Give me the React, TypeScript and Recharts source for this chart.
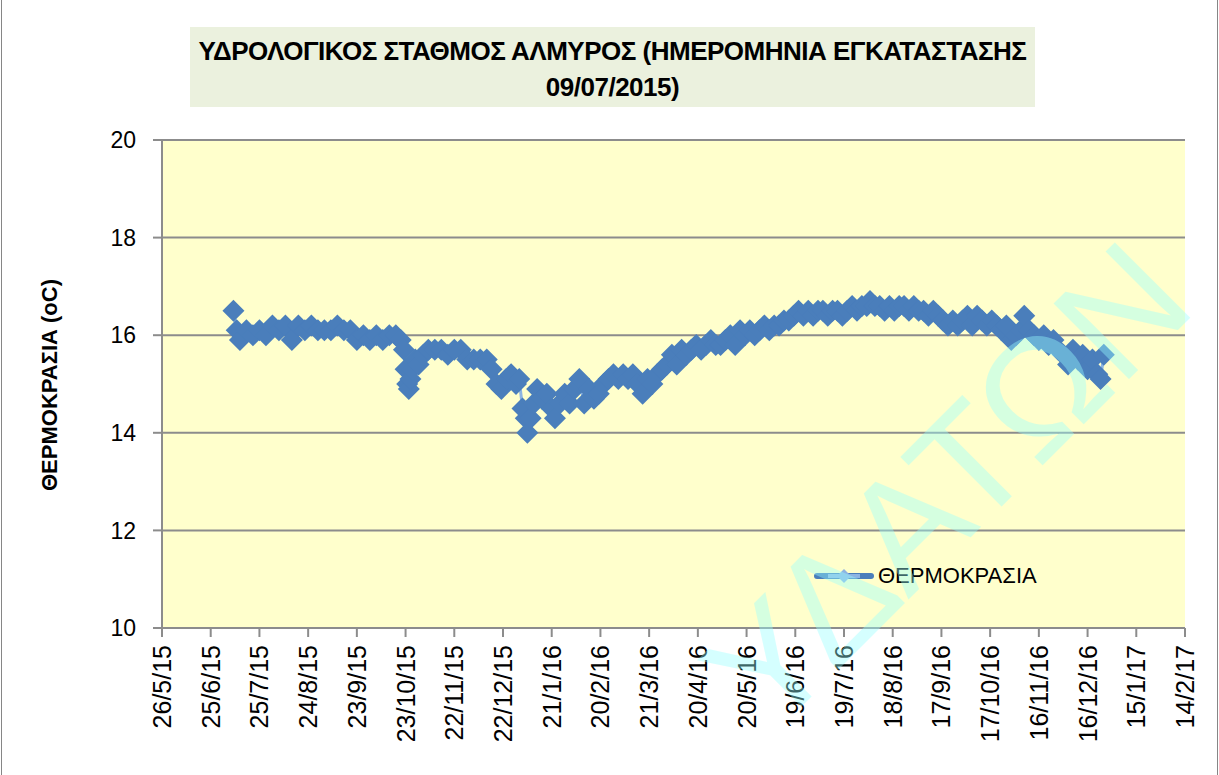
import { LineChart, Line, XAxis, YAxis, CartesianGrid, Legend, Label } from 'recharts';

// x axis tick labels (every 30 days, as on the original sheet)
const tickLabels = [
  '26/5/15', '25/6/15', '25/7/15', '24/8/15', '23/9/15', '23/10/15', '22/11/15',
  '22/12/15', '21/1/16', '20/2/16', '21/3/16', '20/4/16', '20/5/16', '19/6/16',
  '19/7/16', '18/8/16', '17/9/16', '17/10/16', '16/11/16', '16/12/16', '15/1/17', '14/2/17',
];
const yTicks = [10, 12, 14, 16, 18, 20];

// measurement dates (d/m/yy)
const dates = [
  '9/7/15', '11/7/15', '13/7/15', '17/7/15', '21/7/15', '25/7/15', '29/7/15',
  '2/8/15', '6/8/15', '10/8/15', '14/8/15', '18/8/15', '22/8/15', '26/8/15', '30/8/15',
  '3/9/15', '7/9/15', '11/9/15', '15/9/15', '19/9/15', '23/9/15', '27/9/15',
  '1/10/15', '5/10/15', '9/10/15', '13/10/15', '17/10/15', '20/10/15', '22/10/15', '23/10/15', '24/10/15', '25/10/15', '26/10/15', '27/10/15', '29/10/15', '31/10/15',
  '3/11/15', '6/11/15', '10/11/15', '14/11/15', '18/11/15', '22/11/15', '26/11/15', '30/11/15',
  '4/12/15', '8/12/15', '12/12/15', '15/12/15', '18/12/15', '21/12/15', '24/12/15', '27/12/15', '30/12/15',
  '1/1/16', '3/1/16', '5/1/16', '6/1/16', '8/1/16', '10/1/16', '12/1/16', '15/1/16', '18/1/16', '21/1/16', '23/1/16', '26/1/16', '29/1/16',
  '1/2/16', '4/2/16', '7/2/16', '10/2/16', '13/2/16', '16/2/16', '19/2/16', '22/2/16', '25/2/16', '28/2/16',
  '2/3/16', '5/3/16', '8/3/16', '11/3/16', '14/3/16', '17/3/16', '20/3/16', '23/3/16', '26/3/16', '29/3/16',
  '1/4/16', '4/4/16', '7/4/16', '10/4/16', '13/4/16', '16/4/16', '19/4/16', '22/4/16', '25/4/16', '28/4/16',
  '1/5/16', '4/5/16', '7/5/16', '10/5/16', '13/5/16', '16/5/16', '19/5/16', '22/5/16', '25/5/16', '28/5/16', '31/5/16',
  '3/6/16', '6/6/16', '9/6/16', '12/6/16', '15/6/16', '18/6/16', '21/6/16', '24/6/16', '27/6/16', '30/6/16',
  '3/7/16', '6/7/16', '9/7/16', '12/7/16', '15/7/16', '18/7/16', '21/7/16', '24/7/16', '27/7/16', '30/7/16',
  '2/8/16', '4/8/16', '7/8/16', '10/8/16', '13/8/16', '16/8/16', '19/8/16', '22/8/16', '25/8/16', '28/8/16', '31/8/16',
  '3/9/16', '6/9/16', '9/9/16', '12/9/16', '15/9/16', '18/9/16', '21/9/16', '24/9/16', '27/9/16', '30/9/16',
  '3/10/16', '6/10/16', '9/10/16', '12/10/16', '15/10/16', '18/10/16', '21/10/16', '24/10/16', '27/10/16', '30/10/16',
  '2/11/16', '5/11/16', '7/11/16', '10/11/16', '13/11/16', '16/11/16', '19/11/16', '22/11/16', '25/11/16', '28/11/16',
  '1/12/16', '4/12/16', '7/12/16', '10/12/16', '13/12/16', '16/12/16', '19/12/16', '22/12/16', '24/12/16', '26/12/16',
];

// water temperature, oC (same order as dates)
const temps = [
  16.5, 16.1, 15.9, 16.1, 16.0, 16.1, 16.0,
  16.2, 16.1, 16.2, 15.9, 16.2, 16.1, 16.2, 16.1,
  16.1, 16.1, 16.2, 16.1, 16.1, 15.9, 16.0,
  15.9, 16.0, 15.9, 16.0, 16.0, 15.9, 15.7, 15.3, 15.0, 14.9, 15.1, 15.3, 15.5, 15.4,
  15.6, 15.7, 15.7, 15.7, 15.6, 15.7, 15.7, 15.5,
  15.5, 15.5, 15.5, 15.3, 15.0, 14.9, 15.1, 15.2, 15.0,
  15.1, 14.5, 14.3, 14.0, 14.3, 14.6, 14.9, 14.7, 14.8, 14.5, 14.3, 14.6, 14.8,
  14.6, 14.9, 15.1, 14.6, 14.9, 14.7, 14.8, 15.0, 15.1, 15.2,
  15.1, 15.2, 15.1, 15.2, 15.0, 14.8, 15.1, 15.0, 15.2, 15.3,
  15.4, 15.6, 15.4, 15.7, 15.6, 15.7, 15.8, 15.7, 15.8, 15.9,
  15.8, 15.8, 15.9, 16.0, 15.8, 16.1, 16.0, 16.1, 16.0, 16.1, 16.2,
  16.1, 16.2, 16.2, 16.3, 16.3, 16.4, 16.5, 16.4, 16.5, 16.4,
  16.5, 16.5, 16.4, 16.5, 16.5, 16.4, 16.5, 16.6, 16.5, 16.6,
  16.6, 16.7, 16.6, 16.6, 16.5, 16.6, 16.5, 16.6, 16.6, 16.5, 16.6,
  16.5, 16.5, 16.4, 16.5, 16.4, 16.3, 16.2, 16.3, 16.2, 16.3,
  16.4, 16.2, 16.4, 16.3, 16.2, 16.3, 16.2, 16.1, 16.2, 15.9,
  16.0, 16.1, 16.4, 16.1, 16.0, 15.9, 16.0, 15.8, 15.9, 15.7,
  15.6, 15.4, 15.7, 15.5, 15.6, 15.3, 15.5, 15.2, 15.1, 15.6,
];

const toTime = (s: string) => {
  const [d, m, y] = s.split('/').map(Number);
  return Date.UTC(2000 + y, m - 1, d);
};

const tickTimes = tickLabels.map(toTime);
const data = dates.map((d, i) => ({ t: toTime(d), temp: temps[i] }));

const FONT = '"Liberation Sans", Arial, sans-serif';
const MARKER = '#4A7EBB';
const LINE = '#8DB4E2';

const Diamond = (props: any) => {
  const { cx, cy, index } = props;
  if (cx == null || cy == null) return <g key={`m${index}`} />;
  const r = 11;
  return (
    <polygon
      key={`m${index}`}
      points={`${cx},${cy - r} ${cx + r},${cy} ${cx},${cy + r} ${cx - r},${cy}`}
      fill={MARKER}
    />
  );
};

const DateTick = (props: any) => {
  const { x, y, payload } = props;
  const label = tickLabels[tickTimes.indexOf(payload.value)] ?? '';
  return (
    <text
      transform={`translate(${x},${y + 6}) rotate(-90)`}
      textAnchor="end"
      dy="0.36em"
      fontSize={25}
      fontFamily={FONT}
      fill="#000"
    >
      {label}
    </text>
  );
};

const LegendBox = () => (
  <div style={{ display: 'flex', alignItems: 'center', fontFamily: FONT, fontSize: 22, color: '#000' }}>
    <svg width={60} height={20} style={{ marginRight: 4 }}>
      <line x1={3} y1={10} x2={57} y2={10} stroke={MARKER} strokeWidth={6} strokeLinecap="round" />
      <line x1={14} y1={10} x2={46} y2={10} stroke={LINE} strokeWidth={4} />
      <polygon points="30,3 37,10 30,17 23,10" fill={LINE} />
    </svg>
    <span>ΘΕΡΜΟΚΡΑΣΙΑ</span>
  </div>
);

export default function App() {
  return (
    <div
      style={{
        position: 'absolute',
        left: 0,
        top: 0,
        width: 1219,
        height: 775,
        background: '#fff',
        overflow: 'hidden',
      }}
    >
      <div style={{ position: 'absolute', left: 1, top: 0, width: 1215, height: 775, borderLeft: '1px solid #868686', borderRight: '1px solid #868686' }} />
      <div
        style={{
          position: 'absolute',
          left: 190,
          top: 27,
          width: 845,
          height: 80,
          background: '#EBF1DE',
          fontFamily: FONT,
          fontWeight: 'bold',
          fontSize: 26,
          lineHeight: '36px',
          textAlign: 'center',
          paddingTop: 6,
          boxSizing: 'border-box',
          letterSpacing: -0.5,
          color: '#000',
        }}
      >
        ΥΔΡΟΛΟΓΙΚΟΣ ΣΤΑΘΜΟΣ ΑΛΜΥΡΟΣ (ΗΜΕΡΟΜΗΝΙΑ ΕΓΚΑΤΑΣΤΑΣΗΣ
        <br />
        09/07/2015)
      </div>
      <div style={{ position: 'absolute', left: 0, top: 0 }}>
        <LineChart width={1219} height={775} data={data} margin={{ top: 140, right: 34, left: 0, bottom: 0 }}>
          <CartesianGrid vertical={false} fill="#FFFFCC" stroke="#8C8C8C" strokeWidth={2} />
          <XAxis
            dataKey="t"
            type="number"
            domain={[tickTimes[0], tickTimes[tickTimes.length - 1]]}
            ticks={tickTimes}
            interval={0}
            height={147}
            tickSize={9}
            stroke="#8C8C8C"
            strokeWidth={2}
            tick={<DateTick />}
          />
          <YAxis
            domain={[10, 20]}
            ticks={yTicks}
            width={162}
            tickSize={9}
            tickMargin={17}
            stroke="#8C8C8C"
            strokeWidth={2}
            tick={{ fontSize: 23, fontFamily: FONT, fill: '#000' }}
          >
            <Label
              content={() => (
                <text
                  x={49}
                  y={385}
                  transform="rotate(-90,49,385)"
                  textAnchor="middle"
                  dominantBaseline="central"
                  fontSize={22}
                  fontWeight="bold"
                  fontFamily={FONT}
                  fill="#000"
                >
                  ΘΕΡΜΟΚΡΑΣΙΑ (oC)
                </text>
              )}
            />
          </YAxis>
          <Legend
            layout="horizontal"
            verticalAlign="middle"
            align="center"
            wrapperStyle={{ left: 814, top: 563, width: 260 }}
            content={() => <LegendBox />}
          />
          <Line
            type="linear"
            dataKey="temp"
            stroke={LINE}
            strokeWidth={3}
            dot={Diamond}
            activeDot={false}
            isAnimationActive={false}
          />
        </LineChart>
      </div>
      <svg width={1219} height={775} style={{ position: 'absolute', left: 0, top: 0, pointerEvents: 'none' }}>
        <text
          x={770}
          y={738}
          transform="rotate(-45,770,738)"
          fontSize={155}
          fontFamily={FONT}
          fill="#99FFFF"
          opacity={0.4}
        >
          ΥΔΑΤΩΝ
        </text>
      </svg>
    </div>
  );
}
